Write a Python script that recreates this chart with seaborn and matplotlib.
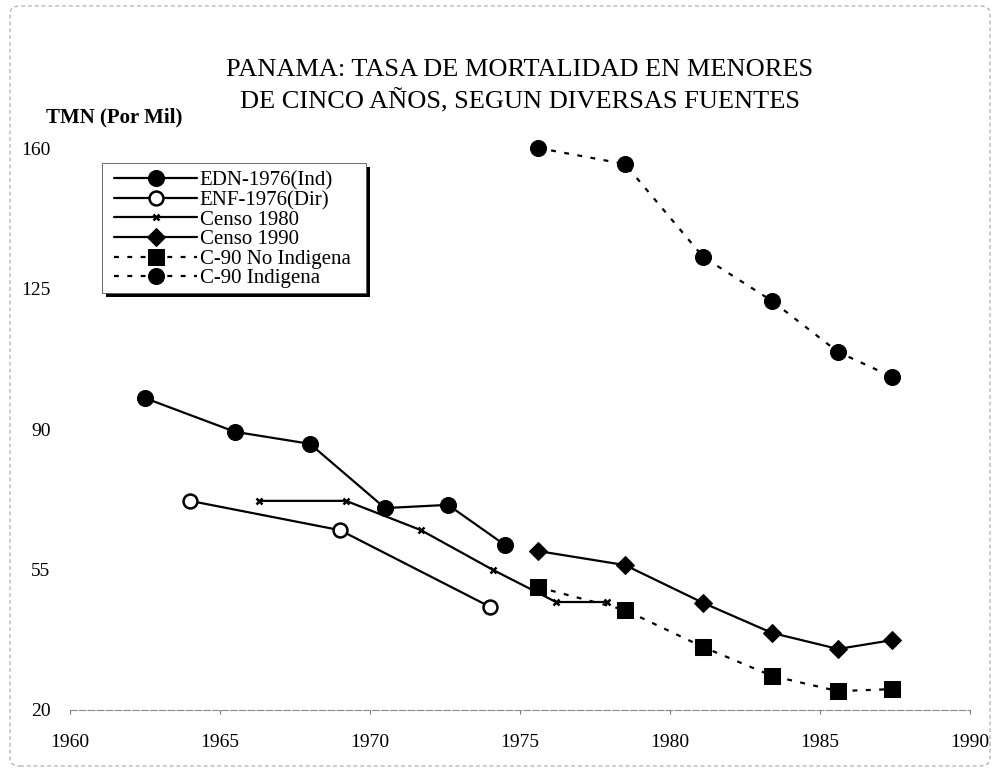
import numpy as np
import pandas as pd
import matplotlib.pyplot as plt
import matplotlib.patches as mpatches
import seaborn as sns

# data (years / rate per thousand)
years_edn = [1962.5, 1965.5, 1968.0, 1970.5, 1972.6, 1974.5]
tmn_edn = [97.7, 89.3, 86.3, 70.3, 71.1, 61.1]
years_enf = [1964.0, 1969.0, 1974.0]
tmn_enf = [72.1, 64.8, 45.7]
years_c80 = [1966.3, 1969.2, 1971.7, 1974.1, 1976.2, 1977.9]
tmn_c80 = [72.1, 72.1, 64.8, 54.9, 46.9, 46.9]
years_c90 = [1975.6, 1978.5, 1981.1, 1983.4, 1985.6, 1987.4]
tmn_c90 = [59.6, 56.1, 46.7, 39.2, 35.2, 37.4]
tmn_noind = [50.6, 44.9, 35.7, 28.5, 24.7, 25.2]
tmn_ind = [160.0, 156.0, 132.9, 121.9, 109.2, 103.0]

x_ticks = [1960, 1965, 1970, 1975, 1980, 1985, 1990]
y_ticks = [20, 55, 90, 125, 160]

dotted = (0, (2.2, 3.8))
series = [
    ('EDN-1976(Ind)', years_edn, tmn_edn, dict(marker='o', markersize=11.5, markerfacecolor='black', linestyle='-')),
    ('ENF-1976(Dir)', years_enf, tmn_enf, dict(marker='o', markersize=10, markerfacecolor='white', markeredgewidth=1.8, linestyle='-')),
    ('Censo 1980', years_c80, tmn_c80, dict(marker='x', markersize=5, markeredgewidth=1.8, linestyle='-')),
    ('Censo 1990', years_c90, tmn_c90, dict(marker='D', markersize=9.5, markerfacecolor='black', linestyle='-')),
    ('C-90 No Indigena', years_c90, tmn_noind, dict(marker='s', markersize=11, markerfacecolor='black', linestyle=dotted)),
    ('C-90 Indigena', years_c90, tmn_ind, dict(marker='o', markersize=11.5, markerfacecolor='black', linestyle=dotted)),
]

sns.set_theme(style='white')
plt.rcParams['font.family'] = ['Liberation Serif', 'DejaVu Serif']
plt.rcParams['text.color'] = 'black'
plt.rcParams['xtick.color'] = 'black'
plt.rcParams['ytick.color'] = 'black'

W, H = 997, 774
fig = plt.figure(figsize=(W / 100, H / 100), dpi=100)
ax = fig.add_axes([70 / W, 1 - 710 / H, 900 / W, (710 - 148) / H])

for name, xs, ys, kw in series:
    df = pd.DataFrame({'year': xs, 'tmn': ys})
    sns.lineplot(data=df, x='year', y='tmn', ax=ax, color='black', linewidth=1.6,
                 markeredgecolor='black', estimator=None, sort=False, label=name,
                 clip_on=False, **kw)

ax.set_xlim(1960, 1990)
ax.set_ylim(20, 160)
ax.set_xticks(x_ticks)
ax.set_yticks(y_ticks)
ax.tick_params(axis='x', labelsize=14, length=3, width=0.8, direction='out', pad=14, bottom=True,
               color='#777777', labelcolor='black')
ax.tick_params(axis='y', labelsize=14, length=0, pad=14, labelcolor='black')
ax.set_xlabel('')
ax.set_ylabel('')
for s in ['top', 'right', 'left']:
    ax.spines[s].set_visible(False)
ax.spines['bottom'].set_color('#888888')
ax.spines['bottom'].set_linewidth(0.8)
ax.spines['bottom'].set_linestyle((0, (6, 2)))
ax.grid(False)

# legend box: frame + black drop shadow, placed in figure pixels
lx0, ly0, lx1, ly1 = 102, 163, 366, 293
ax.add_patch(mpatches.Rectangle(((lx0 + 4) / W, 1 - (ly1 + 4) / H), (lx1 - lx0) / W, (ly1 - ly0) / H,
                                transform=fig.transFigure, facecolor='black', edgecolor='none',
                                zorder=3, clip_on=False))
ax.add_patch(mpatches.Rectangle((lx0 / W, 1 - ly1 / H), (lx1 - lx0) / W, (ly1 - ly0) / H,
                                transform=fig.transFigure, facecolor='white', edgecolor='#555555',
                                linewidth=0.6, zorder=3.5, clip_on=False))

leg = ax.legend(loc='upper left', bbox_to_anchor=(114 / W, 1 - 171 / H), bbox_transform=fig.transFigure,
                fontsize=15, frameon=False, borderaxespad=0, borderpad=0, labelspacing=0.0,
                handlelength=4.0, handletextpad=0.12)
leg.set_zorder(5)
for t in leg.get_texts():
    t.set_color('black')

fig.text(520 / W, 1 - 86 / H, 'PANAMA: TASA DE MORTALIDAD EN MENORES\nDE CINCO AÑOS, SEGUN DIVERSAS FUENTES',
         ha='center', va='center', fontsize=19, linespacing=1.4, color='black')
fig.text(46 / W, 1 - 117 / H, 'TMN (Por Mil)', ha='left', va='center', fontsize=15, fontweight='bold',
         color='black')

# faint scanned page border
fig.patches.append(mpatches.FancyBboxPatch((10 / W, 8 / H), 980 / W, 760 / H, boxstyle='round,pad=0,rounding_size=0.01',
                                           transform=fig.transFigure, fill=False, edgecolor='#999999',
                                           linewidth=0.7, linestyle=(0, (4, 3))))

fig.savefig('out.png', dpi=100)
